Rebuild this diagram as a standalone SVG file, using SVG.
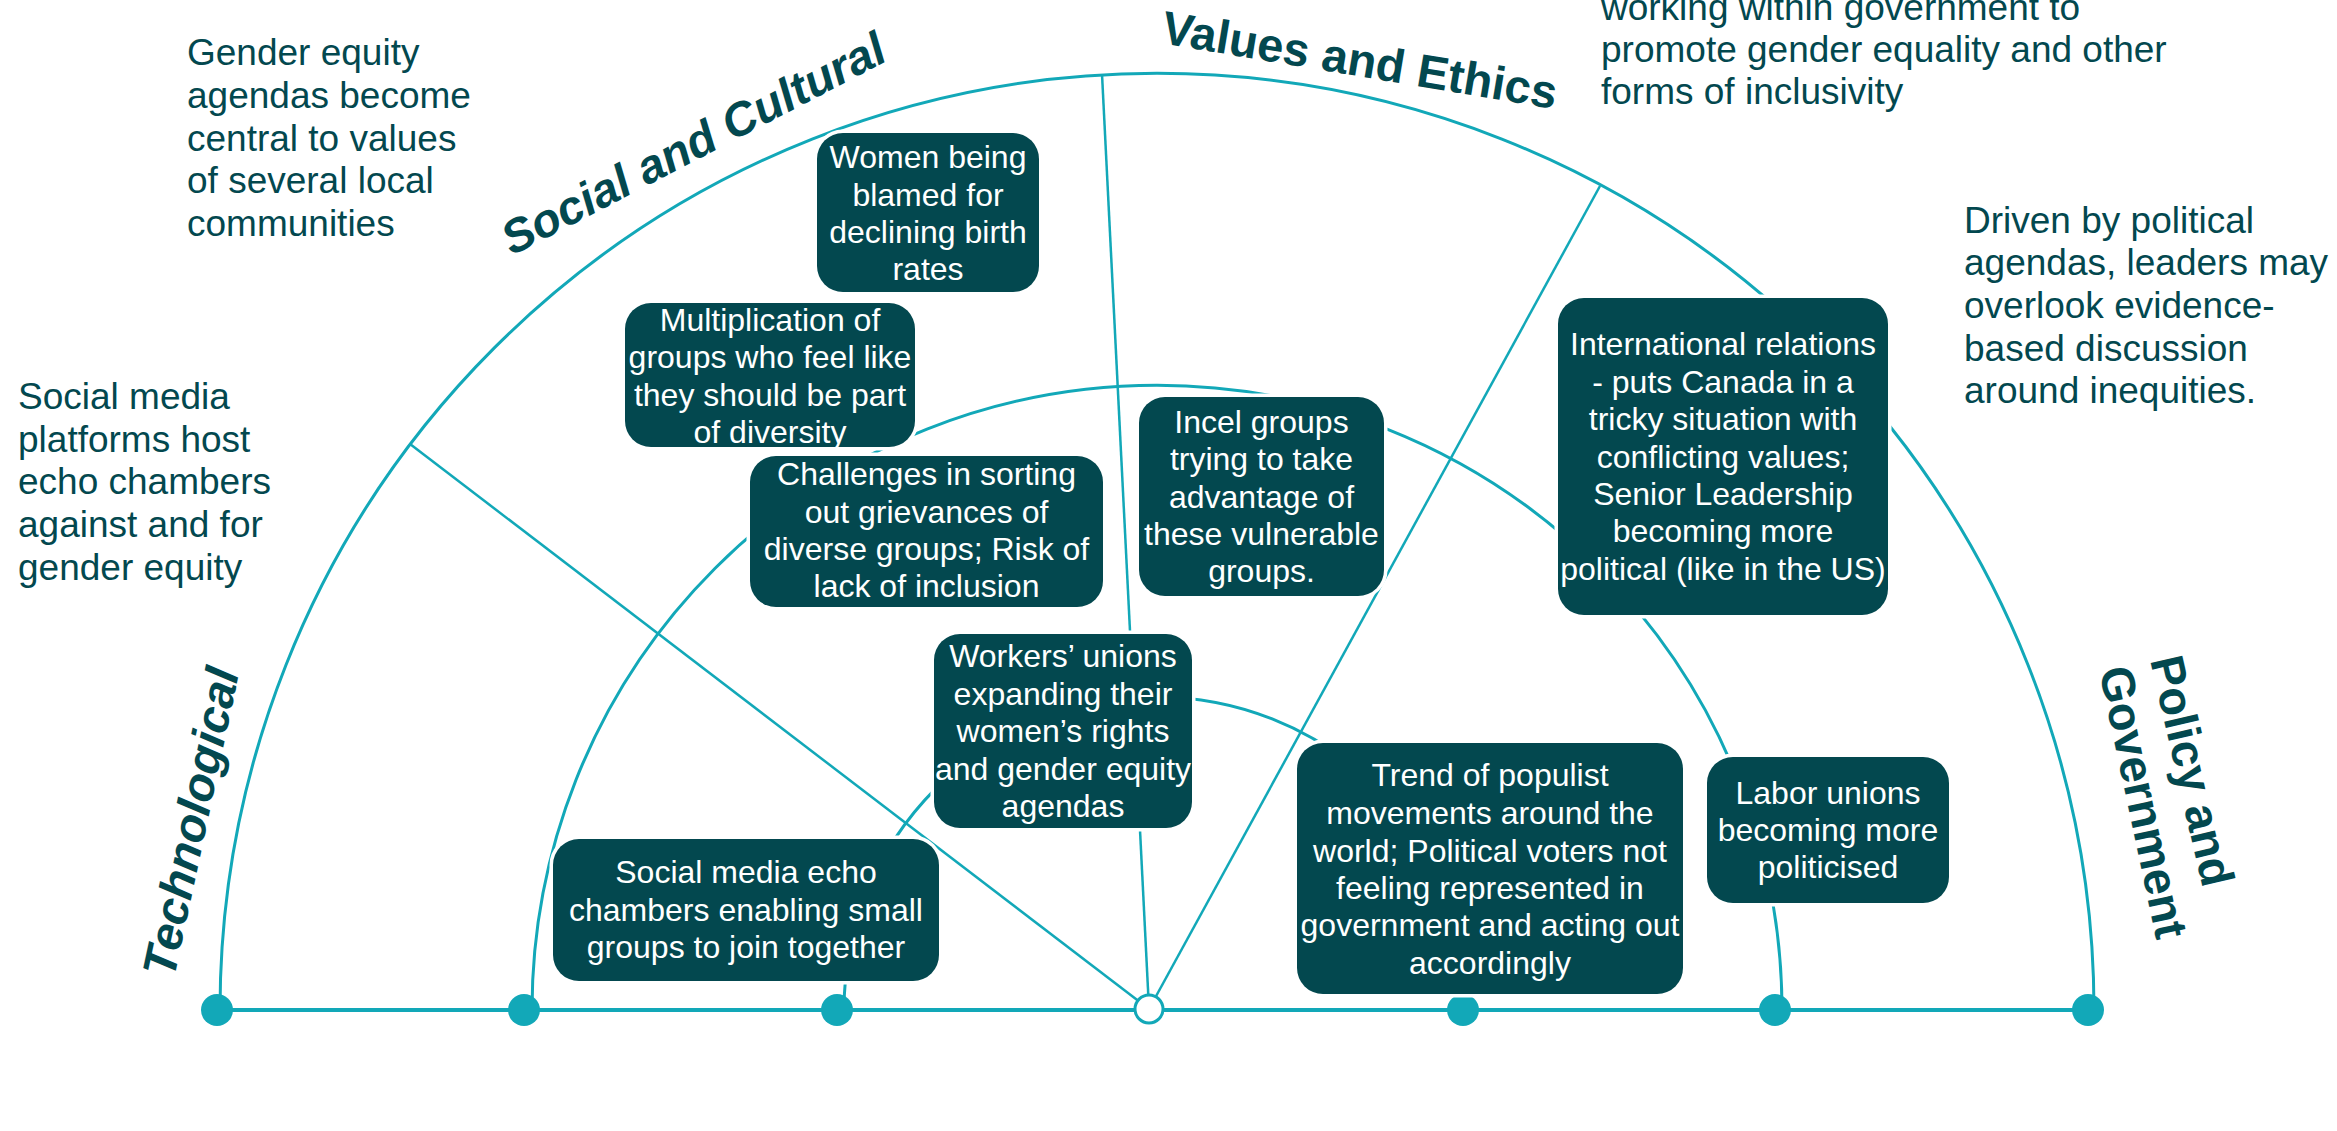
<svg xmlns="http://www.w3.org/2000/svg" width="2337" height="1131" viewBox="0 0 2337 1131">
<style>
.ln{fill:none;stroke:#12A8B8;stroke-width:2.5}
.arc{fill:none;stroke:#12A8B8;stroke-width:3}
.base{fill:none;stroke:#12A8B8;stroke-width:4}
.dot{fill:#12A8B8}
.box{fill:#03484F;stroke:#ffffff;stroke-width:7;paint-order:stroke}
.bt{font-family:"Liberation Sans",Arial,sans-serif;font-size:32px;fill:#ffffff;text-anchor:middle}
.ft{font-family:"Liberation Sans",Arial,sans-serif;font-size:37px;fill:#03484F}
.lab{font-family:"Liberation Sans",Arial,sans-serif;font-size:47px;font-weight:bold;fill:#03484F}
.it{font-style:italic}
</style>
<rect width="2337" height="1131" fill="#ffffff"/>

<g id="labels">
<text class="lab it" x="0" y="0" transform="translate(174 979) rotate(-78)">Technological</text>
<text class="lab it" x="0" y="0" transform="translate(512 256) rotate(-27.5)">Social and Cultural</text>
<text class="lab" x="0" y="0" transform="translate(1160 43) rotate(9.5)">Values and Ethics</text>
<text class="lab" x="0" y="0" transform="translate(2150 660) rotate(77)">Policy and</text>
<text class="lab" x="0" y="0" transform="translate(2099 670) rotate(78)">Government</text>
</g>

<g id="connectors">
<path class="arc" d="M 220 1010 A 937 937 0 0 1 2094 1010"/>
<path class="arc" d="M 532 1010 A 625 625 0 0 1 1782 1010"/>
<path class="arc" d="M 844 1010 A 313 313 0 0 1 1470 1010"/>
<line class="ln" x1="1149" y1="1009" x2="410" y2="444"/>
<line class="ln" x1="1149" y1="1009" x2="1102" y2="74"/>
<line class="ln" x1="1149" y1="1009" x2="1600" y2="186"/>
<line class="base" x1="217" y1="1010" x2="2088" y2="1010"/>
</g>

<g id="axis-points">
<circle class="dot" cx="217" cy="1010" r="16"/>
<circle class="dot" cx="524" cy="1010" r="16"/>
<circle class="dot" cx="837" cy="1010" r="16"/>
<circle cx="1149" cy="1009" r="14" fill="#ffffff" stroke="#12A8B8" stroke-width="3"/>
<circle class="dot" cx="1463" cy="1010" r="16"/>
<circle class="dot" cx="1775" cy="1010" r="16"/>
<circle class="dot" cx="2088" cy="1010" r="16"/>
</g>

<g id="note-gender-equity">
<text class="ft" x="187" y="65">Gender equity</text>
<text class="ft" x="187" y="108">agendas become</text>
<text class="ft" x="187" y="151">central to values</text>
<text class="ft" x="187" y="193">of several local</text>
<text class="ft" x="187" y="236">communities</text>
</g>
<g id="note-social-media">
<text class="ft" x="18" y="409">Social media</text>
<text class="ft" x="18" y="452">platforms host</text>
<text class="ft" x="18" y="494">echo chambers</text>
<text class="ft" x="18" y="537">against and for</text>
<text class="ft" x="18" y="580">gender equity</text>
</g>
<g id="note-government">
<text class="ft" x="1601" y="20">working within government to</text>
<text class="ft" x="1601" y="62">promote gender equality and other</text>
<text class="ft" x="1601" y="104">forms of inclusivity</text>
</g>
<g id="note-political">
<text class="ft" x="1964" y="233">Driven by political</text>
<text class="ft" x="1964" y="275">agendas, leaders may</text>
<text class="ft" x="1964" y="318">overlook evidence-</text>
<text class="ft" x="1964" y="361">based discussion</text>
<text class="ft" x="1964" y="403">around inequities.</text>
</g>

<g id="node-women-blamed">
<rect class="box" x="817" y="133" width="222" height="159" rx="26"/>
<text class="bt" x="928" y="168">Women being</text>
<text class="bt" x="928" y="205.5">blamed for</text>
<text class="bt" x="928" y="243">declining birth</text>
<text class="bt" x="928" y="280">rates</text>
</g>
<g id="node-multiplication">
<rect class="box" x="625" y="303" width="290" height="144" rx="26"/>
<text class="bt" x="770" y="331">Multiplication of</text>
<text class="bt" x="770" y="368">groups who feel like</text>
<text class="bt" x="770" y="405.5">they should be part</text>
<text class="bt" x="770" y="443">of diversity</text>
</g>
<g id="node-challenges">
<rect class="box" x="750" y="456" width="353" height="151" rx="26"/>
<text class="bt" x="926.5" y="485">Challenges in sorting</text>
<text class="bt" x="926.5" y="522.5">out grievances of</text>
<text class="bt" x="926.5" y="560">diverse groups; Risk of</text>
<text class="bt" x="926.5" y="597">lack of inclusion</text>
</g>
<g id="node-incel">
<rect class="box" x="1139" y="397" width="245" height="199" rx="26"/>
<text class="bt" x="1261.5" y="433">Incel groups</text>
<text class="bt" x="1261.5" y="470">trying to take</text>
<text class="bt" x="1261.5" y="507.5">advantage of</text>
<text class="bt" x="1261.5" y="545">these vulnerable</text>
<text class="bt" x="1261.5" y="582">groups.</text>
</g>
<g id="node-international">
<rect class="box" x="1558" y="298" width="330" height="317" rx="26"/>
<text class="bt" x="1723" y="355">International relations</text>
<text class="bt" x="1723" y="392.5">- puts Canada in a</text>
<text class="bt" x="1723" y="430">tricky situation with</text>
<text class="bt" x="1723" y="467.5">conflicting values;</text>
<text class="bt" x="1723" y="505">Senior Leadership</text>
<text class="bt" x="1723" y="542">becoming more</text>
<text class="bt" x="1723" y="580">political (like in the US)</text>
</g>
<g id="node-workers-unions">
<rect class="box" x="934" y="634" width="258" height="194" rx="26"/>
<text class="bt" x="1063" y="667">Workers’ unions</text>
<text class="bt" x="1063" y="704.5">expanding their</text>
<text class="bt" x="1063" y="742">women’s rights</text>
<text class="bt" x="1063" y="779.5">and gender equity</text>
<text class="bt" x="1063" y="817">agendas</text>
</g>
<g id="node-social-media-echo">
<rect class="box" x="553" y="839" width="386" height="142" rx="26"/>
<text class="bt" x="746" y="883">Social media echo</text>
<text class="bt" x="746" y="920.5">chambers enabling small</text>
<text class="bt" x="746" y="958">groups to join together</text>
</g>
<g id="node-populist">
<rect class="box" x="1297" y="743" width="386" height="251" rx="26"/>
<text class="bt" x="1490" y="786">Trend of populist</text>
<text class="bt" x="1490" y="824">movements around the</text>
<text class="bt" x="1490" y="861.5">world; Political voters not</text>
<text class="bt" x="1490" y="899">feeling represented in</text>
<text class="bt" x="1490" y="936">government and acting out</text>
<text class="bt" x="1490" y="973.5">accordingly</text>
</g>
<g id="node-labor-unions">
<rect class="box" x="1707" y="757" width="242" height="146" rx="26"/>
<text class="bt" x="1828" y="804">Labor unions</text>
<text class="bt" x="1828" y="841">becoming more</text>
<text class="bt" x="1828" y="877.5">politicised</text>
</g>
</svg>
